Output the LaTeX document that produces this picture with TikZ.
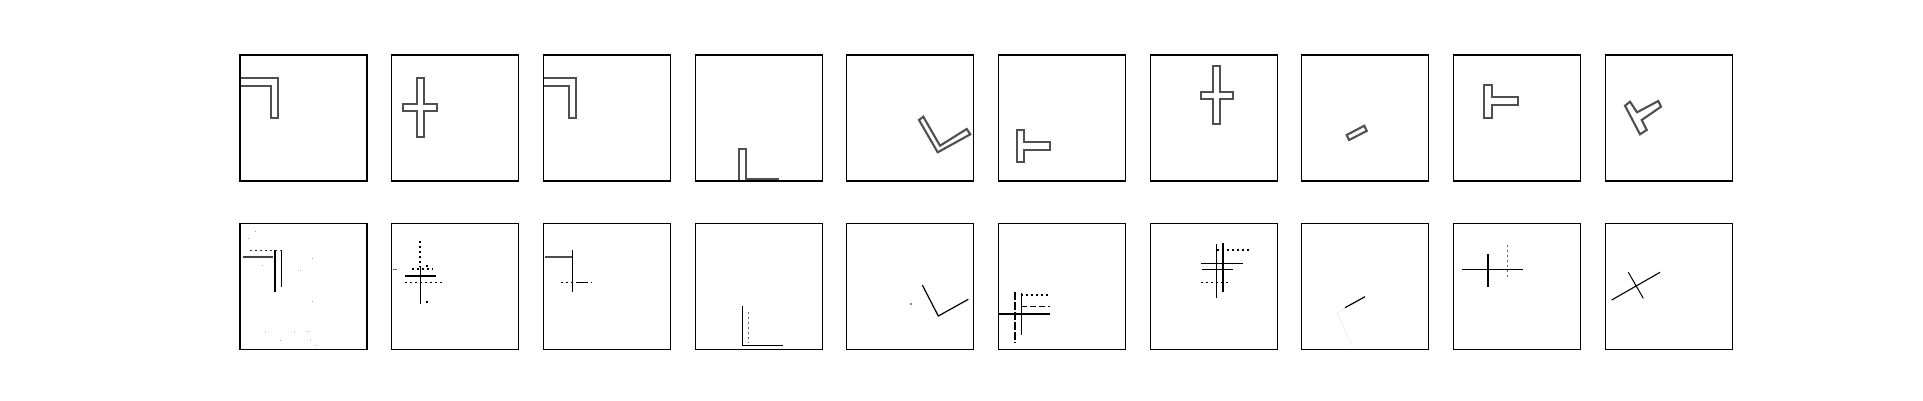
\documentclass[tikz,border=0pt]{standalone}
\definecolor{shapegray}{RGB}{80,80,80}
\begin{document}
\begin{tikzpicture}[x=1pt,y=-1pt,
  panel/.style={draw=black,line width=1.1pt},
  outline/.style={draw=shapegray,line width=2.1pt,line join=miter},
  rec/.style={draw=black,line width=1.7pt},
  recthin/.style={draw=black,line width=0.9pt},
  recdot/.style={draw=black,line width=1.1pt,dash pattern=on 2pt off 3pt},
  recdash/.style={draw=black,line width=0.9pt,dash pattern=on 6pt off 3pt},
  faint/.style={fill=black!25}]
\useasboundingbox (0,0) rectangle (1923,400);
\fill[white] (0,0) rectangle (1923,400);
% ---------- top row shapes ----------
\begin{scope}\clip (240,55) rectangle ++(127,126);
\draw[outline] (230,78.3)--(278.3,78.3)--(278.3,117.7)--(270.7,117.7)--(270.7,85.7)--(230,85.7);
\end{scope}
\draw[outline] (416.7,78.3)--(424,78.3)--(424,104.3)--(437.3,104.3)--(437.3,111)--(424,111)--(424,136.7)--(416.7,136.7)--(416.7,111)--(403.3,111)--(403.3,104.3)--(416.7,104.3)--cycle;
\begin{scope}\clip (543.4,55) rectangle ++(127,126);
\draw[outline] (535,78.3)--(575.7,78.3)--(575.7,117.7)--(569,117.7)--(569,85.7)--(535,85.7);
\end{scope}
\begin{scope}\clip (695.1,55) rectangle ++(127,126);
\draw[outline] (738.7,190)--(738.7,149)--(746,149)--(746,179)--(778.3,179)--(778.3,190);
\end{scope}
\draw[outline] (919,120)--(937.7,152.3)--(970.3,134.3)--(966.7,129)--(940,145.7)--(923.3,116.7)--cycle;
\draw[outline] (1017.3,130)--(1024.3,130)--(1024.3,142.3)--(1050,142.3)--(1050,150)--(1024.3,150)--(1024.3,162.3)--(1017.3,162.3)--cycle;
\draw[outline] (1212.7,65.7)--(1220,65.7)--(1220,91.7)--(1233.3,91.7)--(1233.3,99)--(1220,99)--(1220,124.3)--(1212.7,124.3)--(1212.7,99)--(1200.7,99)--(1200.7,91.7)--(1212.7,91.7)--cycle;
\draw[outline] (1346.7,135)--(1364.3,125.7)--(1366.7,131)--(1349,140)--cycle;
\draw[outline] (1484.3,85)--(1492,85)--(1492,97.3)--(1518.3,97.3)--(1518.3,105)--(1492,105)--(1492,117.7)--(1484.3,117.7)--cycle;
\draw[outline] (1625,105.7)--(1640,134.3)--(1646.7,130)--(1641.7,120)--(1661,106.7)--(1658.3,101)--(1637,112.3)--(1630,101.7)--cycle;
% ---------- bottom row reconstructions ----------
% panel 1
\draw[rec,draw=black!75] (243.3,257)--(273.3,257);
\draw[rec] (275,250)--(275,291.7);
\draw[recthin] (281.7,250)--(281.7,286.7);
\draw[recdot,line width=0.9pt,draw=black!80] (250,250)--(281.7,250);
\foreach \p in {(248,238),(255,231),(262,265),(300,270),(312,258),(312,301),(294,331),(307,331),(265,331),(280,340),(310,340),(315,345)}
  \fill[black!35] \p rectangle ++(1.3,1.3);
% panel 2
\draw[recdot] (420,241)--(420,267);
\draw[recthin] (420,267)--(420,304.3);
\draw[rec] (405,276)--(436,276);
\draw[recdot] (411.7,269)--(433.3,269);
\draw[recdot] (405,282.3)--(442.7,282.3);
\fill (426,301) rectangle ++(2,2);
\fill (426,265) rectangle ++(2,2);
\draw[black!60,line width=0.9pt] (393,269)--(397,269);
% panel 3
\draw[rec,draw=black!70] (545,257)--(573.3,257);
\draw[recthin] (572.3,250)--(572.3,291.7);
\draw[recdot] (561,282.3)--(591.7,282.3);
\draw[recthin,line width=1.2pt] (578,282.3)--(586,282.3);
% panel 4
\draw[recthin] (742.3,305.7)--(742.3,345)--(782.7,345);
\draw[recdot,draw=black!60] (748.3,311.7)--(748.3,343.3);
% panel 5
\draw[black,line width=1.2pt] (922.3,285)--(938.3,316)--(968.3,299.3);
\fill[black!45] (910,303) rectangle ++(2,2);
% panel 6
\draw[rec] (999.3,314)--(1050,314);
\draw[rec,dash pattern=on 8pt off 2pt] (1015,291.7)--(1015,343.3);
\draw[recthin] (1021,293)--(1021,335);
\draw[recdot] (1021,295)--(1050,295);
\draw[recdash] (1021,306.7)--(1050,306.7);
% panel 7
\draw[rec] (1222.7,243.3)--(1222.7,291.7);
\draw[recthin] (1216.7,244)--(1216.7,297.7);
\draw[recthin] (1201,263.3)--(1243.3,263.3);
\draw[recthin] (1201.7,269)--(1232.7,269);
\draw[recdot] (1216.7,250)--(1250,250);
\draw[recdot] (1201,282.3)--(1230,282.3);
% panel 8
\draw[black,line width=1.2pt] (1345,307.7)--(1365,296.7);
\draw[black!7,line width=0.8pt] (1337,313)--(1345,308);
\draw[black!7,line width=0.8pt] (1337,313)--(1352,345);
% panel 9
\draw[rec] (1488.3,254.3)--(1488.3,286.7);
\draw[recthin] (1461.7,269)--(1522.7,269);
\draw[recdot,draw=black!60] (1507.7,245)--(1507.7,276.7);
% panel 10
\draw[black,line width=1.1pt] (1611.7,300)--(1660,272.3);
\draw[black,line width=1pt] (1628.3,272.3)--(1643.3,298.3);
% ---------- panel frames ----------
\foreach \i in {0,...,9} {
  \pgfmathsetmacro\xl{240+151.7*\i}
  \draw[panel] (\xl,55) rectangle ++(127,126);
  \draw[panel] (\xl,223.3) rectangle ++(127,126);
}
\end{tikzpicture}
\end{document}
